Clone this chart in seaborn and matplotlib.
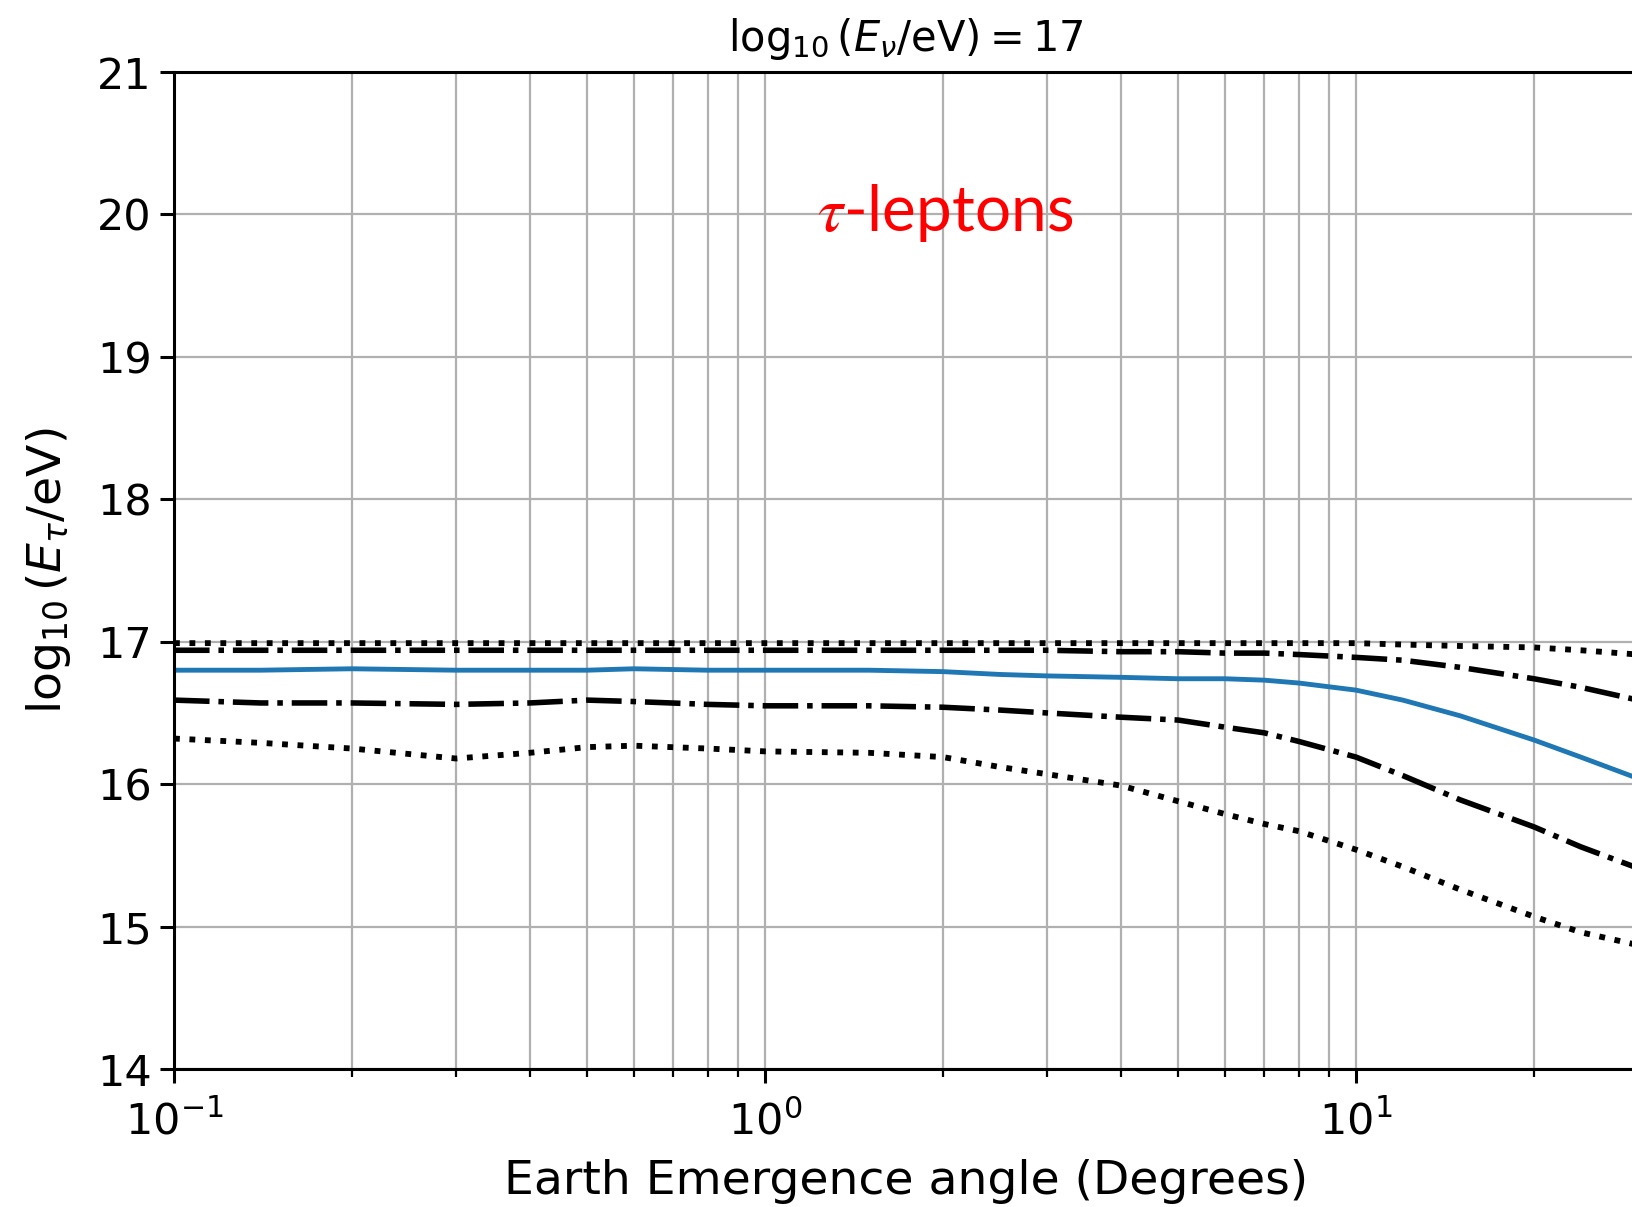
import matplotlib
matplotlib.use("Agg")
import matplotlib.pyplot as plt
import seaborn as sns
import numpy as np
import pandas as pd
from matplotlib.ticker import LogLocator, NullFormatter

# ---- data ----
angles = [0.1, 0.14, 0.2, 0.3, 0.4, 0.5, 0.6, 0.8, 1.0, 1.5, 2, 2.5, 3, 4, 5, 6, 7, 8,
          10, 12, 15, 20, 24, 30]
top_dotted = [16.99, 16.99, 16.99, 16.99, 16.99, 16.99, 16.99, 16.99, 16.99, 16.99, 16.99, 16.99,
              16.99, 16.99, 16.99, 16.99, 16.99, 16.99, 16.99, 16.98, 16.97, 16.96, 16.94, 16.91]
upper_dashdot = [16.94, 16.94, 16.94, 16.94, 16.94, 16.94, 16.94, 16.94, 16.94, 16.94, 16.94, 16.94,
                 16.94, 16.93, 16.93, 16.92, 16.92, 16.91, 16.89, 16.87, 16.82, 16.74, 16.68, 16.59]
median_blue = [16.80, 16.80, 16.81, 16.80, 16.80, 16.80, 16.81, 16.80, 16.80, 16.80, 16.79, 16.77,
               16.76, 16.75, 16.74, 16.74, 16.73, 16.71, 16.66, 16.59, 16.48, 16.31, 16.19, 16.04]
lower_dashdot = [16.59, 16.57, 16.57, 16.56, 16.57, 16.59, 16.58, 16.56, 16.55, 16.55, 16.54, 16.52,
                 16.50, 16.47, 16.45, 16.40, 16.36, 16.30, 16.19, 16.06, 15.89, 15.70, 15.56, 15.41]
lower_dotted = [16.32, 16.29, 16.25, 16.18, 16.22, 16.26, 16.27, 16.25, 16.23, 16.22, 16.19, 16.12,
                16.07, 15.99, 15.88, 15.79, 15.72, 15.67, 15.54, 15.42, 15.26, 15.07, 14.96, 14.87]

title_text = r'$\log_{10}(E_{\nu}/\mathrm{eV}) = 17$'
ylabel_text = r'$\log_{10}(E_{\tau}/\mathrm{eV})$'
xlabel_text = 'Earth Emergence angle (Degrees)'
annot_text = r'$\tau$-leptons'

sns.set_style('white')
plt.rcParams['font.family'] = ['DejaVu Sans']
plt.rcParams['text.color'] = 'black'
plt.rcParams['axes.labelcolor'] = 'black'
plt.rcParams['xtick.color'] = 'black'
plt.rcParams['ytick.color'] = 'black'

fig = plt.figure(figsize=(16.33, 12.07), dpi=100)
ax = fig.add_axes([174/1633, 1 - 1069/1207, (1638 - 174)/1633, (1069 - 72)/1207])

series = [
    (top_dotted, ':', 'black', 4.2),
    (upper_dashdot, '-.', 'black', 4.0),
    (median_blue, '-', '#1f77b4', 3.5),
    (lower_dashdot, '-.', 'black', 4.0),
    (lower_dotted, ':', 'black', 4.2),
]
for vals, ls, col, lw in series:
    df = pd.DataFrame({'angle': angles, 'E': vals})
    sns.lineplot(data=df, x='angle', y='E', ax=ax, color=col, linestyle=ls,
                 linewidth=lw, estimator=None, sort=False)

ax.set_xscale('log')
ax.set_xlim(0.1, 30)
ax.set_ylim(14, 21)
ax.set_yticks([14, 15, 16, 17, 18, 19, 20, 21])
ax.xaxis.set_minor_locator(LogLocator(base=10, subs=np.arange(2, 10)))
ax.xaxis.set_minor_formatter(NullFormatter())

ax.grid(True, which='major', axis='both', color='#b0b0b0', linewidth=1.6)
ax.grid(True, which='minor', axis='x', color='#b0b0b0', linewidth=1.6)
ax.set_axisbelow(True)

for sp in ax.spines.values():
    sp.set_visible(True)
    sp.set_color('black')
    sp.set_linewidth(2.2)

ax.tick_params(axis='both', which='major', labelsize=31, length=10, width=2.2,
               direction='out', color='black', bottom=True, left=True)
ax.tick_params(axis='y', which='major', pad=6)
ax.tick_params(axis='x', which='major', pad=13)
ax.tick_params(axis='x', which='minor', length=5.5, width=1.6, color='black', bottom=True)

ax.set_title(title_text, fontsize=30, pad=15)
ax.set_xlabel(xlabel_text, fontsize=34, labelpad=11)
ax.set_ylabel(ylabel_text, fontsize=34, labelpad=17)

fig.text(945/1633, 1 - 213/1207, annot_text, color='red', fontsize=46,
         family=['Lato', 'DejaVu Sans'], math_fontfamily='stix', ha='center', va='center')

fig.savefig('out.png', dpi=100)
